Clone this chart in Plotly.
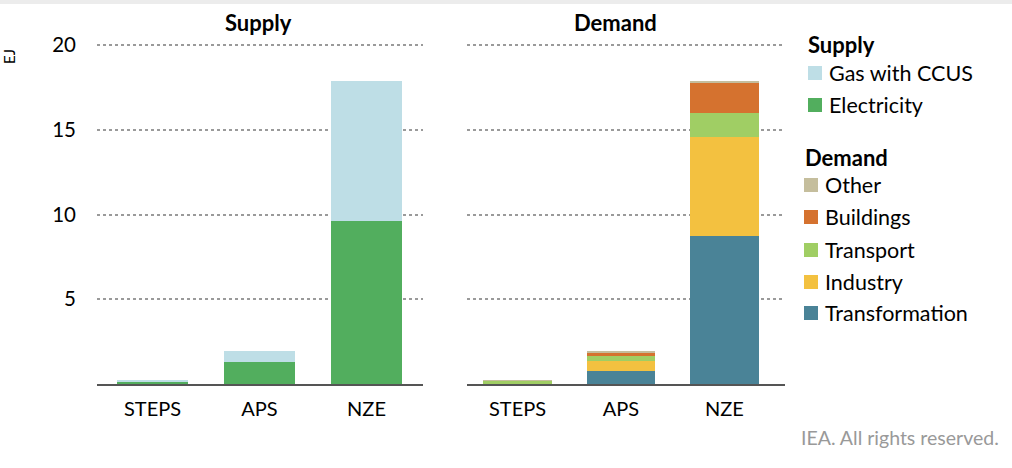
import plotly.graph_objects as go

scenarios = ["STEPS", "APS", "NZE"]

supply_electricity = [0.12, 1.3, 9.6]
supply_gas_ccus = [0.1, 0.65, 8.3]

demand_transformation = [0.0, 0.78, 8.75]
demand_industry = [0.0, 0.56, 5.85]
demand_transport = [0.2, 0.33, 1.4]
demand_buildings = [0.0, 0.16, 1.8]
demand_other = [0.03, 0.06, 0.1]

y_ticks = [5, 10, 15, 20]

FONT = "Lato"
W, H = 1012, 468
mt, mb = 43, 84
ph = H - mt - mb


def px(x):
    return x / W


def py(y):
    return (H - mb - y) / ph


fig = go.Figure()

supply_series = [
    ("Electricity", supply_electricity, "#52AE5E"),
    ("Gas with CCUS", supply_gas_ccus, "#BEDEE6"),
]
demand_series = [
    ("Transformation", demand_transformation, "#4A8397"),
    ("Industry", demand_industry, "#F3C140"),
    ("Transport", demand_transport, "#A0CE64"),
    ("Buildings", demand_buildings, "#D5722F"),
    ("Other", demand_other, "#C5BE9D"),
]

for name, vals, color in supply_series:
    fig.add_trace(go.Bar(x=scenarios, y=vals, name=name, marker=dict(color=color, line=dict(width=0)),
                         xaxis="x", yaxis="y", width=0.665, hoverinfo="skip", showlegend=False))
for name, vals, color in demand_series:
    fig.add_trace(go.Bar(x=scenarios, y=vals, name=name, marker=dict(color=color, line=dict(width=0)),
                         xaxis="x2", yaxis="y2", width=0.665, hoverinfo="skip", showlegend=False))

yax = dict(range=[0, 20.12], tickvals=y_ticks, showgrid=True, gridcolor="#9a9a9a", griddash="dot",
           gridwidth=1.5, zeroline=False, showline=False, ticks="", ticklabelstandoff=20,
           tickfont=dict(size=20.5, color="black", family=FONT), fixedrange=True)
xax = dict(type="category", showline=True, linecolor="#555555", linewidth=1.5, ticks="",
           ticklabelstandoff=6,
           tickfont=dict(size=20, color="black", family=FONT), showgrid=False, zeroline=False)


def note(text, x, y, size, color="black", xanchor="left", **kw):
    return dict(text=text, x=px(x), y=py(y), xref="paper", yref="paper", xanchor=xanchor,
                yanchor="middle", showarrow=False, font=dict(size=size, color=color, family=FONT), **kw)


annotations = [
    note("<b>Supply</b>", 258, 22, 22, xanchor="center"),
    note("<b>Demand</b>", 615, 22, 22, xanchor="center"),
    note("EJ", 9, 57, 15, xanchor="center", textangle=-90),
    note("IEA. All rights reserved.", 1001, 437, 19.5, color="#999999", xanchor="right"),
]
shapes = [
    dict(type="rect", xref="paper", yref="paper", x0=0, x1=1, y0=py(4), y1=py(-2),
         fillcolor="#ececec", line=dict(width=0), layer="below"),
]

# Legend built from the series definitions (order as in reference)
legend_blocks = [
    ("Supply", 806, 44, 808, 827, [supply_series[1], supply_series[0]], [73, 105]),
    ("Demand", 803, 157, 804, 823, [demand_series[4], demand_series[3], demand_series[2],
                                    demand_series[1], demand_series[0]], [185, 217, 250, 282, 313]),
]
for title, tx, ty, sx, lx, items, ys in legend_blocks:
    annotations.append(note("<b>" + title + "</b>", tx, ty, 22))
    for (name, _, color), yy in zip(items, ys):
        shapes.append(dict(type="rect", xref="paper", yref="paper", x0=px(sx), x1=px(sx + 14),
                           y0=py(yy + 7), y1=py(yy - 7), fillcolor=color, line=dict(width=0)))
        annotations.append(note(name, lx, yy, 21.5))

fig.update_layout(
    width=W, height=H, template="none", barmode="stack",
    paper_bgcolor="white", plot_bgcolor="white",
    margin=dict(l=0, r=0, t=mt, b=mb),
    font=dict(family=FONT, color="black"),
    xaxis=dict(xax, domain=[px(97), px(423)], range=[-0.519, 2.528], anchor="y"),
    yaxis=dict(yax, domain=[0, 1], anchor="x", showticklabels=True),
    xaxis2=dict(xax, domain=[px(467), px(785)], range=[-0.488, 2.585], anchor="y2"),
    yaxis2=dict(yax, domain=[0, 1], anchor="x2", showticklabels=False),
    showlegend=False,
    annotations=annotations,
    shapes=shapes,
)

fig.write_html("out.html", config={"displayModeBar": False},
               post_script="document.body.style.margin='0';document.body.style.overflow='hidden';")
